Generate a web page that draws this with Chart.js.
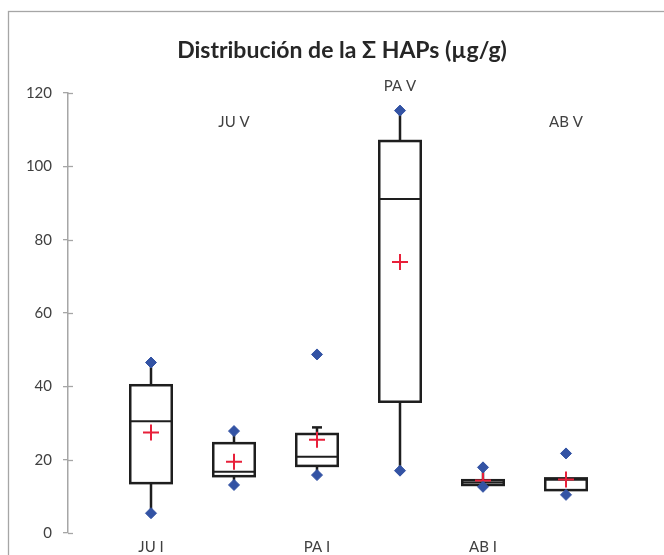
<!DOCTYPE html>
<html>
<head>
<meta charset="utf-8">
<script src="https://cdn.jsdelivr.net/npm/chart.js@4"></script>
<style>
  html, body { margin: 0; padding: 0; background: #fff; overflow: hidden; }
</style>
</head>
<body>
<canvas id="chart" width="664" height="555"></canvas>
<script>
// box plot groups, in axis order
const groups = ["JU I", "JU V", "PA I", "PA V", "AB I", "AB V"];
const whiskerLow = [5.4, 13.1, 15.8, 17.0, 12.6, 11.7];
const q1 = [13.6, 15.5, 18.3, 35.8, 13.1, 11.7];
const medians = [30.5, 16.7, 20.8, 91.1, 13.8, 14.5];
const q3 = [40.3, 24.5, 27.0, 106.9, 14.4, 14.9];
const whiskerHigh = [46.5, 27.8, 28.8, 115.2, 17.9, 14.9];
const means = [27.4, 19.4, 25.4, 73.9, 14.3, 14.6];
const minPoints = [5.4, 13.1, 15.8, 17.0, 12.6, 10.4];
const maxPoints = [46.5, 27.8, 48.7, 115.2, 17.9, 21.7];
const yTicks = [0, 20, 40, 60, 80, 100, 120];

const FONT = "Lato";
const AXIS_GREY = "#a6a6a6";

const toPoints = arr => arr.map((v, i) => ({ x: i + 1, y: v }));

const boxPlugin = {
    id: "boxes",
    beforeDraw(chart) {
        const ctx = chart.ctx;
        ctx.save();
        ctx.fillStyle = "#fff";
        ctx.fillRect(0, 0, chart.width, chart.height);
        ctx.strokeStyle = AXIS_GREY;
        ctx.lineWidth = 1.3;
        ctx.strokeRect(8.5, 11.5, 700, 600);
        // title
        ctx.fillStyle = "#262626";
        ctx.font = "bold 23px " + FONT;
        ctx.textAlign = "center";
        ctx.textBaseline = "alphabetic";
        ctx.fillText("Distribución de la Σ HAPs (µg/g)", 342, 58);
        ctx.restore();
    },
    beforeDatasetsDraw(chart) {
        const { ctx, scales: { x, y } } = chart;
        ctx.save();
        ctx.strokeStyle = "#1e1e1e";
        groups.forEach((g, i) => {
            const cx = x.getPixelForValue(i + 1);
            const hw = x.getPixelForValue(i + 1.25) - cx;
            const top = y.getPixelForValue(q3[i]);
            const bot = y.getPixelForValue(q1[i]);

            ctx.lineWidth = 2.5;
            ctx.beginPath();
            ctx.moveTo(cx, top);
            ctx.lineTo(cx, y.getPixelForValue(whiskerHigh[i]));
            ctx.moveTo(cx, bot);
            ctx.lineTo(cx, y.getPixelForValue(whiskerLow[i]));
            ctx.stroke();

            // cap when the whisker stops short of the marker
            if (whiskerHigh[i] !== maxPoints[i] && whiskerHigh[i] !== q3[i]) {
                const wy = y.getPixelForValue(whiskerHigh[i]);
                ctx.beginPath();
                ctx.moveTo(cx - 5, wy);
                ctx.lineTo(cx + 5, wy);
                ctx.stroke();
            }

            ctx.fillStyle = "#fff";
            ctx.fillRect(cx - hw, top, hw * 2, bot - top);
            ctx.strokeRect(cx - hw, top, hw * 2, bot - top);

            ctx.lineWidth = 2;
            const my = y.getPixelForValue(medians[i]);
            ctx.beginPath();
            ctx.moveTo(cx - hw, my);
            ctx.lineTo(cx + hw, my);
            ctx.stroke();
        });
        ctx.restore();
    },
    afterDraw(chart) {
        const { ctx, scales: { x, y } } = chart;
        ctx.save();
        // inner half of the crossing tick marks
        ctx.strokeStyle = AXIS_GREY;
        ctx.lineWidth = 1.3;
        y.ticks.forEach(t => {
            const py = Math.round(y.getPixelForValue(t.value)) + 0.5;
            ctx.beginPath();
            ctx.moveTo(y.right, py);
            ctx.lineTo(y.right + 5, py);
            ctx.stroke();
        });
        // labels of the second group of each pair sit above the plot
        const opts = chart.options.plugins.boxes;
        ctx.fillStyle = "#404040";
        ctx.font = "15px " + FONT;
        ctx.textAlign = "center";
        ctx.textBaseline = "middle";
        groups.forEach((g, i) => {
            if (i % 2 === 1) {
                ctx.fillText(g, x.getPixelForValue(i + 1), y.getPixelForValue(opts.labelLevels[(i - 1) / 2]));
            }
        });
        ctx.restore();
    }
};

new Chart(document.getElementById("chart"), {
    type: "scatter",
    data: {
        datasets: [
            {
                label: "min",
                data: toPoints(minPoints),
                pointStyle: "rectRot",
                pointRadius: 5.5,
                backgroundColor: "#3353a4",
                borderColor: "#3353a4",
                borderWidth: 1,
                order: 0
            },
            {
                label: "max",
                data: toPoints(maxPoints),
                pointStyle: "rectRot",
                pointRadius: 5.5,
                backgroundColor: "#3353a4",
                borderColor: "#3353a4",
                borderWidth: 1,
                order: 0
            },
            {
                label: "media",
                data: toPoints(means),
                pointStyle: "cross",
                pointRadius: 8,
                borderColor: "#e8203a",
                borderWidth: 2,
                order: 1
            }
        ]
    },
    options: {
        responsive: false,
        animation: false,
        devicePixelRatio: 1,
        layout: { padding: { top: 93, right: 15, left: 0, bottom: 0 } },
        scales: {
            x: {
                type: "linear",
                min: 0,
                max: 7,
                afterFit: s => { s.height = 22; },
                ticks: {
                    stepSize: 1,
                    autoSkip: false,
                    maxRotation: 0,
                    padding: 5,
                    color: "#404040",
                    font: { family: FONT, size: 15 },
                    callback: v => (v >= 1 && (v - 1) % 2 === 0) ? groups[v - 1] : ""
                },
                grid: { display: false, drawTicks: false },
                border: { display: false }
            },
            y: {
                min: 0,
                max: 120,
                afterFit: s => { s.width = 68; },
                afterBuildTicks: s => { s.ticks = yTicks.map(v => ({ value: v })); },
                ticks: {
                    padding: 11,
                    color: "#404040",
                    font: { family: FONT, size: 15 }
                },
                grid: { drawOnChartArea: false, tickLength: 5, color: AXIS_GREY, lineWidth: 1.3 },
                border: { color: AXIS_GREY, width: 1.5 }
            }
        },
        plugins: {
            legend: { display: false },
            tooltip: { enabled: false },
            boxes: { labelLevels: [112, 122, 112] }
        }
    },
    plugins: [boxPlugin]
});
</script>
</body>
</html>
